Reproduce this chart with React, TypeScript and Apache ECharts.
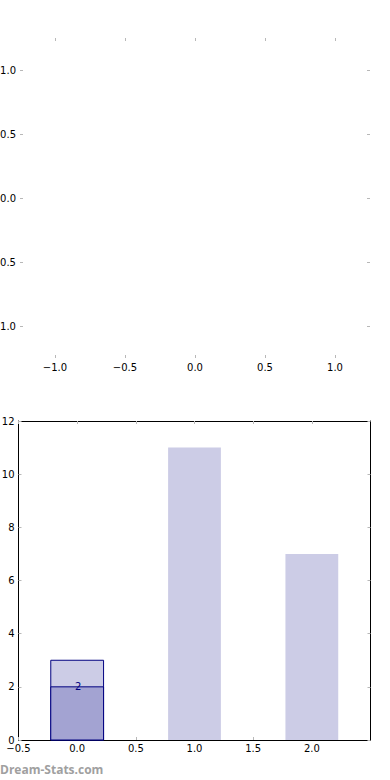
import React, { useEffect, useRef } from "react";
import * as echarts from "echarts";

const topTicks = [-1.0, -0.5, 0.0, 0.5, 1.0];
const barPositions = [0, 1, 2];
const barValues = [3, 11, 7];
const highlightIndex = 0;
const highlightValue = 2;
const barXTicks = [-0.5, 0.0, 0.5, 1.0, 1.5, 2.0];
const barYTicks = [0, 2, 4, 6, 8, 10, 12];
const watermark = "Dream-Stats.com";

const FONT = "DejaVu Sans";
const TICK = "#b8b8b8";
const NAVY = "#000080";
const LIGHT = "#ccccE6";
const DARK = "#a3a3d2";
const BAR_W = 0.45;

const fmt = (v: number) => v.toFixed(1).replace("-", "\u2212");

export default function App() {
  const ref = useRef<HTMLDivElement>(null);
  useEffect(() => {
    const chart = echarts.init(ref.current!, null, { renderer: "svg" });
    const lbl = { fontFamily: FONT, fontSize: 10, color: "#000" };
    const tick = () => ({ show: true, inside: true, length: 3, lineStyle: { color: TICK, width: 1 } });
    const hiddenLine = { show: false, onZero: false };
    const spine = { show: true, onZero: false, lineStyle: { color: "#000", width: 1 } };

    const barData = barPositions.map((x, i) => [x, barValues[i], i === highlightIndex ? 1 : 0]);
    const overlayData = [[barPositions[highlightIndex], highlightValue]];

    const option: any = {
      animation: false,
      grid: [
        { left: 20, top: 38, width: 350, height: 320, containLabel: false, outerBoundsMode: "none" },
        { left: 18.5, top: 421, width: 352, height: 319, containLabel: false, outerBoundsMode: "none" },
      ],
      xAxis: [
        {
          gridIndex: 0, type: "value", position: "bottom", min: -1.25, max: 1.25,
          axisLine: hiddenLine, splitLine: { show: false },
          axisTick: { ...tick(), customValues: topTicks },
          axisLabel: { ...lbl, margin: 4, customValues: topTicks, formatter: fmt },
        },
        {
          gridIndex: 0, type: "value", position: "top", min: -1.25, max: 1.25,
          axisLine: hiddenLine, splitLine: { show: false },
          axisTick: { ...tick(), customValues: topTicks },
          axisLabel: { show: false },
        },
        {
          gridIndex: 1, type: "value", position: "bottom", min: -0.5, max: 2.5, interval: 0.5,
          axisLine: spine, splitLine: { show: false },
          axisTick: { ...tick(), customValues: barXTicks },
          axisLabel: { ...lbl, margin: 3, customValues: barXTicks, formatter: fmt },
        },
        {
          gridIndex: 1, type: "value", position: "top", min: -0.5, max: 2.5, interval: 0.5,
          axisLine: spine, splitLine: { show: false },
          axisTick: { ...tick(), customValues: barXTicks },
          axisLabel: { show: false },
        },
      ],
      yAxis: [
        {
          gridIndex: 0, type: "value", position: "left", min: -1.25, max: 1.25,
          axisLine: hiddenLine, splitLine: { show: false },
          axisTick: { ...tick(), customValues: topTicks },
          axisLabel: { ...lbl, margin: 4, customValues: topTicks, formatter: fmt },
        },
        {
          gridIndex: 0, type: "value", position: "right", min: -1.25, max: 1.25,
          axisLine: hiddenLine, splitLine: { show: false },
          axisTick: { ...tick(), customValues: topTicks },
          axisLabel: { show: false },
        },
        {
          gridIndex: 1, type: "value", position: "left", min: 0, max: 12, interval: 2,
          axisLine: spine, splitLine: { show: false },
          axisTick: { ...tick(), customValues: barYTicks },
          axisLabel: { ...lbl, margin: 4, customValues: barYTicks },
        },
        {
          gridIndex: 1, type: "value", position: "right", min: 0, max: 12, interval: 2,
          axisLine: spine, splitLine: { show: false },
          axisTick: { ...tick(), customValues: barYTicks },
          axisLabel: { show: false },
        },
      ],
      series: [
        { type: "scatter", xAxisIndex: 0, yAxisIndex: 0, data: [] },
        {
          type: "custom", xAxisIndex: 2, yAxisIndex: 2, data: barData, z: 1,
          renderItem: (params: any, api: any) => {
            const x = api.value(0), h = api.value(1), hl = api.value(2);
            const p0 = api.coord([x - BAR_W / 2, h]);
            const p1 = api.coord([x + BAR_W / 2, 0]);
            return {
              type: "rect",
              shape: { x: p0[0], y: p0[1], width: p1[0] - p0[0], height: p1[1] - p0[1] },
              style: { fill: LIGHT, stroke: hl ? NAVY : null, lineWidth: hl ? 1 : 0 },
            };
          },
        },
        {
          type: "custom", xAxisIndex: 2, yAxisIndex: 2, data: overlayData, z: 2,
          renderItem: (params: any, api: any) => {
            const x = api.value(0), h = api.value(1);
            const p0 = api.coord([x - BAR_W / 2, h]);
            const p1 = api.coord([x + BAR_W / 2, 0]);
            const c = api.coord([x, h]);
            return {
              type: "group",
              children: [
                {
                  type: "rect",
                  shape: { x: p0[0], y: p0[1], width: p1[0] - p0[0], height: p1[1] - p0[1] },
                  style: { fill: DARK, stroke: NAVY, lineWidth: 1 },
                },
                {
                  type: "text",
                  x: c[0] + 1, y: c[1],
                  style: {
                    text: String(h), fill: NAVY, font: `10px ${FONT}`,
                    align: "center", verticalAlign: "middle",
                  },
                },
              ],
            };
          },
        },
      ],
      graphic: [
        {
          type: "text", left: 0, top: 763,
          style: { text: watermark, fill: "#a0a0a0", font: `bold 12px "Open Sans"` },
        },
      ],
    };
    chart.setOption(option);
    return () => chart.dispose();
  }, []);
  return (
    <div
      ref={ref}
      style={{ position: "absolute", left: 0, top: 0, width: 390, height: 780, background: "#fff" }}
    />
  );
}
